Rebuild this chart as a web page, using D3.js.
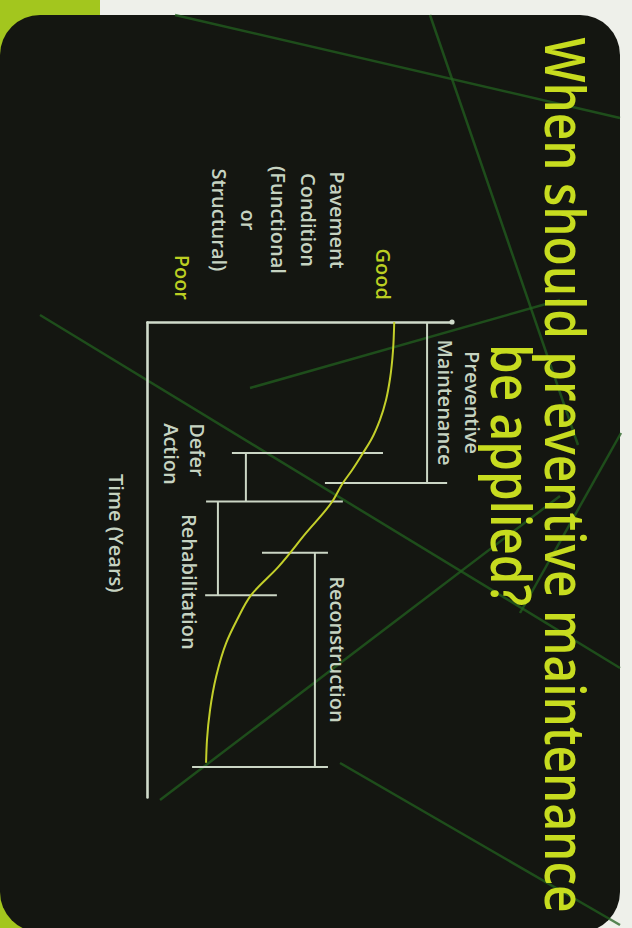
<!DOCTYPE html>
<html>
<head>
<meta charset="utf-8">
<script src="https://cdn.jsdelivr.net/npm/d3@7"></script>
<style>
  body { margin: 0; background: #eef0ea; }
  svg { display: block; }
</style>
</head>
<body>
<svg id="slide"></svg>
<script>
// Deterioration curve: time (% of life) vs pavement condition (%)
const timeYears = [0, 6, 12, 16.4, 20.6, 24.8, 27.6, 31.2, 33.9, 37.9, 44.4, 51.6, 57.5, 62.7, 67.6, 74.7, 81.7, 88, 92.8];
const condition = [81, 80.6, 79.6, 78.3, 76.3, 73.4, 70.7, 67.1, 64.1, 60.5, 52, 42.8, 33.9, 29.3, 25.7, 22.4, 20.4, 19.4, 19.1];

const titleLines = ['When should preventive maintenance', 'be applied?'];
const axisLabelLines = ['Pavement', 'Condition', '(Functional', 'or', 'Structural)'];
const goodLabel = 'Good';
const poorLabel = 'Poor';
const timeLabel = 'Time (Years)';

// treatment windows: vertical bracket at condition c, from time t0 to t1
const bracketNames = [['Preventive', 'Maintenance'], ['Defer', 'Action'], ['Rehabilitation'], ['Reconstruction']];
const bracketC = [91.8, 32.2, 23, 54.9];
const bracketT0 = [0, 27.6, 37.8, 48.6];
const bracketT1 = [33.9, 37.8, 57.5, 93.7];
const topTicks = [null, [27.6, 77.3], null, [37.5, 59.2]];
const bottomTicks = [[58.2, 98.4], [19.1, 64.1], [18.8, 42.4], [14.5, 59.2]];

// faint green streaks of the slide background (page coords)
const streaks = [
  [175, 15, 620, 118],
  [430, 15, 578, 445],
  [40, 315, 620, 668],
  [160, 800, 560, 496],
  [340, 763, 620, 925],
  [250, 388, 560, 300],
  [520, 613, 621, 433]
];

const W = 632, H = 928;
const svg = d3.select('#slide').attr('width', W).attr('height', H);

// page background
svg.append('rect').attr('width', W).attr('height', H).attr('fill', '#eef0ea');
svg.append('rect').attr('width', 100).attr('height', H).attr('fill', '#a3c61e');
svg.append('rect')
  .attr('x', 0).attr('y', 15)
  .attr('width', 620).attr('height', 917)
  .attr('rx', 40)
  .attr('fill', '#141611');

svg.append('g').selectAll('line')
  .data(streaks)
  .join('line')
  .attr('x1', d => d[0]).attr('y1', d => d[1])
  .attr('x2', d => d[2]).attr('y2', d => d[3])
  .attr('stroke', '#22601f')
  .attr('stroke-width', 2.5)
  .attr('opacity', 0.75);

// slide is rotated 90deg clockwise in the picture
const slide = svg.append('g').attr('transform', `translate(${W},0) rotate(90)`);

const font = '"Open Sans", "Noto Sans", sans-serif';
const labelColor = '#c6d3c1';
const lineColor = '#cbd6c5';

// title, glyphs a little condensed like the picture
slide.selectAll('.title')
  .data(titleLines)
  .join('text')
  .attr('class', 'title')
  .attr('transform', (d, i) => `translate(475,${i === 0 ? 87 : 141}) scale(0.852,1)`)
  .attr('text-anchor', 'middle')
  .attr('font-family', font)
  .attr('font-weight', 600)
  .attr('font-size', 56)
  .attr('fill', '#c7dc1f')
  .text(d => d);

// scales
const x = d3.scaleLinear().domain([0, 100]).range([322, 797]);
const y = d3.scaleLinear().domain([0, 100]).range([484, 180]);

const xAxis = d3.axisBottom(x).tickValues([]).tickSizeOuter(0);
const yAxis = d3.axisLeft(y).tickValues([]).tickSizeOuter(0);

const xAxisG = slide.append('g').attr('transform', `translate(0,${y(0)})`).call(xAxis);
const yAxisG = slide.append('g').attr('transform', `translate(${x(0)},0)`).call(yAxis);
[xAxisG, yAxisG].forEach(g => g.select('.domain')
  .attr('stroke', '#d0dbcb')
  .attr('stroke-width', 2.6)
  .attr('stroke-linecap', 'round'));
slide.append('circle').attr('cx', x(0)).attr('cy', y(100)).attr('r', 2.6).attr('fill', '#d0dbcb');

// brackets
const bg = slide.append('g')
  .attr('stroke', lineColor)
  .attr('stroke-width', 2);
bracketC.forEach((c, i) => {
  bg.append('line')
    .attr('x1', x(bracketT0[i])).attr('x2', x(bracketT1[i]))
    .attr('y1', y(c)).attr('y2', y(c));
  if (topTicks[i]) {
    bg.append('line')
      .attr('x1', x(bracketT0[i])).attr('x2', x(bracketT0[i]))
      .attr('y1', y(topTicks[i][0])).attr('y2', y(topTicks[i][1]));
  }
  bg.append('line')
    .attr('x1', x(bracketT1[i])).attr('x2', x(bracketT1[i]))
    .attr('y1', y(bottomTicks[i][0])).attr('y2', y(bottomTicks[i][1]));
});

// deterioration curve
const pts = timeYears.map((t, i) => [t, condition[i]]);
slide.append('path')
  .datum(pts)
  .attr('fill', 'none')
  .attr('stroke', '#c3cf2a')
  .attr('stroke-width', 2)
  .attr('d', d3.line().x(d => x(d[0])).y(d => y(d[1])).curve(d3.curveMonotoneX));

// labels
function label(txt, px, py, anchor, color) {
  slide.append('text')
    .attr('x', px).attr('y', py)
    .attr('text-anchor', anchor || 'start')
    .attr('font-family', font)
    .attr('font-weight', 600)
    .attr('font-size', 20)
    .attr('fill', color || labelColor)
    .text(txt);
}

label(goodLabel, x(0) - 22, y(75), 'end', '#bccf22');
label(poorLabel, x(0) - 22, y(9), 'end', '#bccf22');
axisLabelLines.forEach((s, i) => label(s, x(0) - 102, y(60) + i * 29.7, 'middle'));
label(timeLabel, x(32), y(0) + 39);

// bracket labels
const pm = y(bracketC[0]);
bracketNames[0].forEach((s, i) => label(s, x((bracketT0[0] + bracketT1[0]) / 2), pm - 38 + i * 27, 'middle'));
bracketNames[1].forEach((s, i) => label(s, x(21.3), y(bracketC[1]) + 56 + i * 26));
label(bracketNames[2][0], x(40.4), y(bracketC[2]) + 36);
label(bracketNames[3][0], x(53.5), y(bracketC[3]) - 15);
</script>
</body>
</html>
